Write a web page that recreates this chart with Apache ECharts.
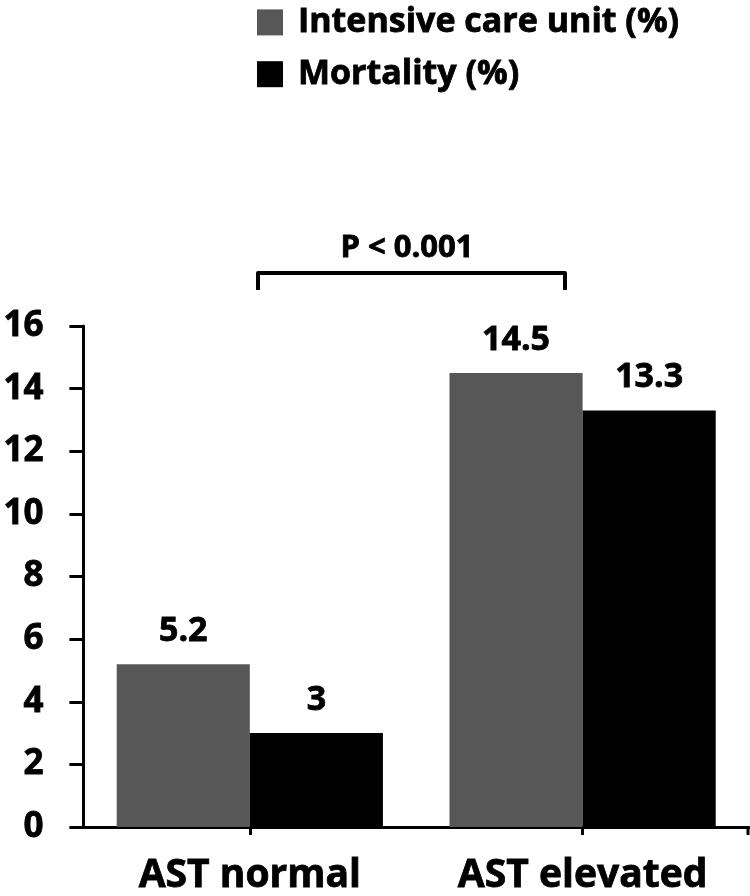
<!DOCTYPE html>
<html>
<head>
<meta charset="utf-8">
<script src="https://cdn.jsdelivr.net/npm/echarts@6/dist/echarts.min.js"></script>
<style>
  html, body { margin: 0; padding: 0; background: #fff; }
  #chart { width: 750px; height: 896px; }
</style>
</head>
<body>
<div id="chart"></div>
<script>
// data
const categories = ['AST normal', 'AST elevated']
const icuValues = [5.2, 14.5]
const mortalityValues = [3, 13.3]
const seriesNames = ['Intensive care unit (%)', 'Mortality (%)']
const pText = 'P < 0.001'

const FONT = '"Open Sans"'

// heavier look for the bold text
const heavy = { textBorderColor: '#000', textBorderWidth: 0.8 }

const chart = echarts.init(document.getElementById('chart'), null, { renderer: 'canvas' })

const labelStyle = Object.assign({
  show: true,
  position: 'top',
  distance: 16,
  color: '#000',
  fontFamily: FONT,
  fontWeight: 'bold',
  fontSize: 34
}, heavy)

chart.setOption({
  animation: false,
  backgroundColor: '#fff',
  legend: {
    orient: 'vertical',
    left: 252,
    top: 0,
    itemWidth: 26,
    itemHeight: 26,
    itemGap: 17,
    icon: 'rect',
    textStyle: Object.assign({
      color: '#000',
      fontFamily: FONT,
      fontWeight: 'bold',
      fontSize: 34,
      padding: [0, 0, 0, 10]
    }, heavy),
    data: seriesNames
  },
  grid: {
    left: 83,
    right: 1,
    top: 326,
    bottom: 69
  },
  xAxis: {
    type: 'category',
    data: categories,
    axisLine: { lineStyle: { color: '#000', width: 3 } },
    axisTick: { show: true, alignWithLabel: true, length: 8, lineStyle: { color: '#000', width: 3 } },
    axisLabel: Object.assign({
      color: '#000',
      fontFamily: FONT,
      fontWeight: 'bold',
      fontSize: 39,
      margin: 29
    }, heavy)
  },
  yAxis: {
    type: 'value',
    min: 0,
    max: 16,
    interval: 2,
    axisLine: { show: true, lineStyle: { color: '#000', width: 3 } },
    axisTick: { show: true, length: 14, lineStyle: { color: '#000', width: 3 } },
    splitLine: { show: false },
    axisLabel: Object.assign({
      color: '#000',
      fontFamily: FONT,
      fontWeight: 'bold',
      fontSize: 35,
      margin: 40
    }, heavy)
  },
  series: [
    {
      name: seriesNames[0],
      type: 'bar',
      data: icuValues,
      barGap: '0%',
      barCategoryGap: '20%',
      itemStyle: { color: '#575757' },
      label: labelStyle
    },
    {
      name: seriesNames[1],
      type: 'bar',
      data: mortalityValues,
      itemStyle: { color: '#000000' },
      label: labelStyle
    }
  ],
  graphic: [
    {
      // bracket between the groups
      type: 'polyline',
      shape: { points: [[258, 290], [258, 273], [565, 273], [565, 290]] },
      style: { stroke: '#000', lineWidth: 4, fill: null, lineJoin: 'round' }
    },
    {
      type: 'text',
      x: 407,
      y: 248,
      style: {
        text: pText,
        fill: '#000',
        font: 'bold 31px ' + FONT,
        align: 'center',
        verticalAlign: 'middle',
        stroke: '#000',
        lineWidth: 0.8
      }
    },
    {
      // tick at right end of x axis
      type: 'line',
      shape: { x1: 748, y1: 827, x2: 748, y2: 835 },
      style: { stroke: '#000', lineWidth: 3 }
    }
  ]
})
</script>
</body>
</html>
